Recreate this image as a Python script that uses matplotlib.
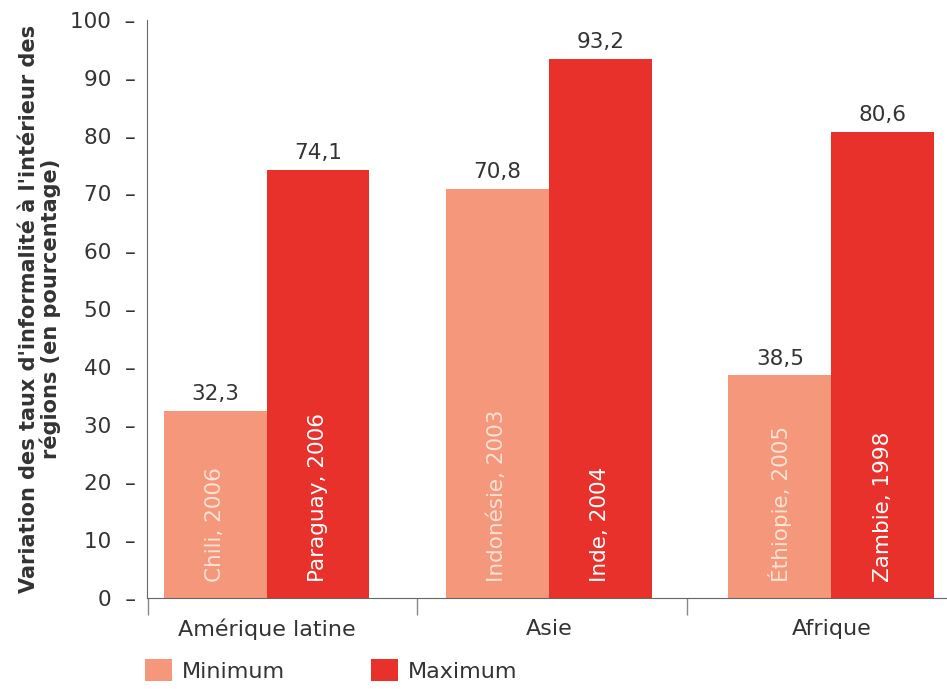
import matplotlib
matplotlib.use("Agg")
import matplotlib.pyplot as plt
import numpy as np

regions = ["Amérique latine", "Asie", "Afrique"]
min_values = [32.3, 70.8, 38.5]
max_values = [74.1, 93.2, 80.6]
min_labels = ["Chili, 2006", "Indonésie, 2003", "Éthiopie, 2005"]
max_labels = ["Paraguay, 2006", "Inde, 2004", "Zambie, 1998"]
yticks = [0, 10, 20, 30, 40, 50, 60, 70, 80, 90, 100]
series_names = ["Minimum", "Maximum"]

c_min = "#F4977B"
c_max = "#E8312A"
txt = "#333333"

plt.rcParams['font.family'] = ['DejaVu Sans']

fig = plt.figure(figsize=(9.47, 6.89), dpi=100)
ax = fig.add_axes([0.155, 0.132, 0.845, 0.839])

x = np.arange(len(regions))
w = 0.364
b1 = ax.bar(x - w/2, min_values, w, color=c_min, label=series_names[0])
b2 = ax.bar(x + w/2, max_values, w, color=c_max, label=series_names[1])

def fmt(v):
    return f"{v:.1f}".replace(".", ",")

for xi, v, lab in zip(x - w/2, min_values, min_labels):
    ax.annotate(fmt(v), (xi, v), xytext=(0, 5), textcoords="offset points",
                ha="center", va="bottom", fontsize=15.5, color=txt)
    ax.text(xi, 2.8, lab, rotation=90, ha="center", va="bottom",
            fontsize=15.5, color="#FDE2D6")
for xi, v, lab in zip(x + w/2, max_values, max_labels):
    ax.annotate(fmt(v), (xi, v), xytext=(0, 5), textcoords="offset points",
                ha="center", va="bottom", fontsize=15.5, color=txt)
    ax.text(xi, 2.8, lab, rotation=90, ha="center", va="bottom",
            fontsize=15.5, color="white")

ax.set_xlim(-0.424, 2.41)
ax.set_ylim(0, 100)

ax.set_yticks(yticks)
ax.set_yticklabels([f"{t}  –" for t in yticks], fontsize=15.5, color=txt)
ax.tick_params(axis="y", length=0, pad=8)

ax.set_xticks(x)
ax.set_xticklabels(regions, fontsize=16, color=txt)
ax.tick_params(axis="x", length=0, pad=15)
ax.set_xticks([-0.42, 0.534, 1.49], minor=True)
ax.tick_params(axis="x", which="minor", length=12, width=1, color="#888888", direction="out")

for s in ["top", "right"]:
    ax.spines[s].set_visible(False)
ax.spines["left"].set_color("#666666")
ax.spines["bottom"].set_color("#666666")

ax.set_ylabel("Variation des taux d'informalité à l'intérieur des\nrégions (en pourcentage)",
              fontsize=15, fontweight="bold", color=txt, linespacing=1.05)
ax.yaxis.set_label_coords(-0.107, 0.5)

leg = fig.legend(handles=[b1, b2], labels=series_names, loc="center left",
                 bbox_to_anchor=(0.153, 0.027), ncol=2, frameon=False,
                 fontsize=16, handlelength=1.2, handleheight=1.1,
                 columnspacing=3.9, handletextpad=0.45,
                 borderpad=0, borderaxespad=0)
for t in leg.get_texts():
    t.set_color(txt)

fig.savefig("out.png", dpi=100)
